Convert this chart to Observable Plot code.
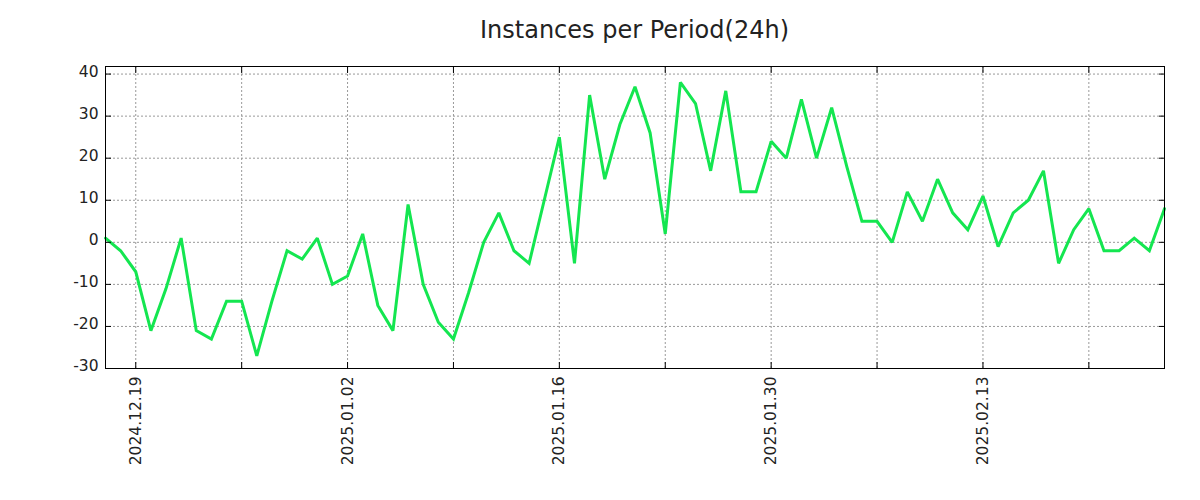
<!DOCTYPE html>
<html>
<head>
<meta charset="utf-8">
<script src="https://cdn.jsdelivr.net/npm/d3@7"></script>
<script src="https://cdn.jsdelivr.net/npm/@observablehq/plot@0.6"></script>
<style>
  html, body { margin: 0; padding: 0; background: #fff; }
  #wrap { position: relative; width: 1200px; height: 500px; }
  #title { position: absolute; left: 105px; width: 1059px; top: 18px; text-align: center;
    font-family: "DejaVu Sans", sans-serif; font-size: 24px; line-height: 24px; color: #222; }
  #chart { position: absolute; left: 0; top: 0; }
</style>
</head>
<body>
<div id="wrap">
  <div id="chart"></div>
  <div id="title">Instances per Period(24h)</div>
</div>
<script>
// ---- data ----
const titleText = "Instances per Period(24h)";
const startDate = "2024.12.17";
const endDate = "2025.02.25";
const values = [
  1, -2, -7, -21, -11, 1, -21, -23, -14, -14,
  -27, -14, -2, -4, 1, -10, -8, 2, -15, -21,
  9, -10, -19, -23, -12, 0, 7, -2, -5, 10,
  25, -5, 35, 15, 28, 37, 26, 2, 38, 33,
  17, 36, 12, 12, 24, 20, 34, 20, 32, 18,
  5, 5, 0, 12, 5, 15, 7, 3, 11, -1,
  7, 10, 17, -5, 3, 8, -2, -2, 1, -2,
  8
];
const xTickLabels = ["2024.12.19", "2025.01.02", "2025.01.16", "2025.01.30", "2025.02.13"];
const xMinorTicks = ["2024.12.26", "2025.01.09", "2025.01.23", "2025.02.06", "2025.02.20"];
const yTicks = [-30, -20, -10, 0, 10, 20, 30, 40];
const yTop = 41.8;

// ---- build ----
const parse = d3.utcParse("%Y.%m.%d");
const fmt = d3.utcFormat("%Y.%m.%d");
const start = parse(startDate);
const rows = values.map((v, i) => ({date: d3.utcDay.offset(start, i), value: v}));
const labelDates = xTickLabels.map(parse);
const allXTicks = [...labelDates, ...xMinorTicks.map(parse)].sort((a, b) => a - b);

const font = "DejaVu Sans, sans-serif";
const gridStyle = {stroke: "#999999", strokeOpacity: 1, strokeDasharray: "2,2", strokeWidth: 1};

const plot = Plot.plot({
  width: 1200,
  height: 500,
  marginLeft: 105,
  marginRight: 36,
  marginTop: 66,
  marginBottom: 132,
  style: {fontFamily: font, fontSize: "15.5px", color: "#222", background: "white"},
  x: {type: "utc", domain: [start, parse(endDate)]},
  y: {domain: [-30, yTop]},
  marks: [
    Plot.gridX(allXTicks, gridStyle),
    Plot.gridY(yTicks.filter(t => t > -30), gridStyle),
    Plot.line(rows, {x: "date", y: "value", stroke: "#14e650", strokeWidth: 3, strokeLinejoin: "miter", strokeMiterlimit: 2}),
    Plot.frame({stroke: "#000", strokeWidth: 1}),
    // inward ticks, mirrored
    Plot.axisX(allXTicks, {anchor: "bottom", tickSize: -6, tickFormat: () => "", label: null, stroke: "#000"}),
    Plot.axisX(allXTicks, {anchor: "top", tickSize: -6, tickFormat: () => "", label: null, stroke: "#000"}),
    Plot.axisY(yTicks, {anchor: "left", tickSize: -6, tickFormat: () => "", label: null, stroke: "#000"}),
    Plot.axisY(yTicks, {anchor: "right", tickSize: -6, tickFormat: () => "", label: null, stroke: "#000"}),
    // labels
    Plot.axisX(labelDates, {anchor: "bottom", tickSize: 0, tickPadding: 8, tickRotate: -90, tickFormat: fmt, label: null, fontSize: 15.5, fill: "#222"}),
    Plot.axisY(yTicks, {anchor: "left", tickSize: 0, tickPadding: 7, tickFormat: d => String(d), label: null, fontSize: 15.5, fill: "#222", dy: -2})
  ]
});
document.getElementById("chart").appendChild(plot);
</script>
</body>
</html>
